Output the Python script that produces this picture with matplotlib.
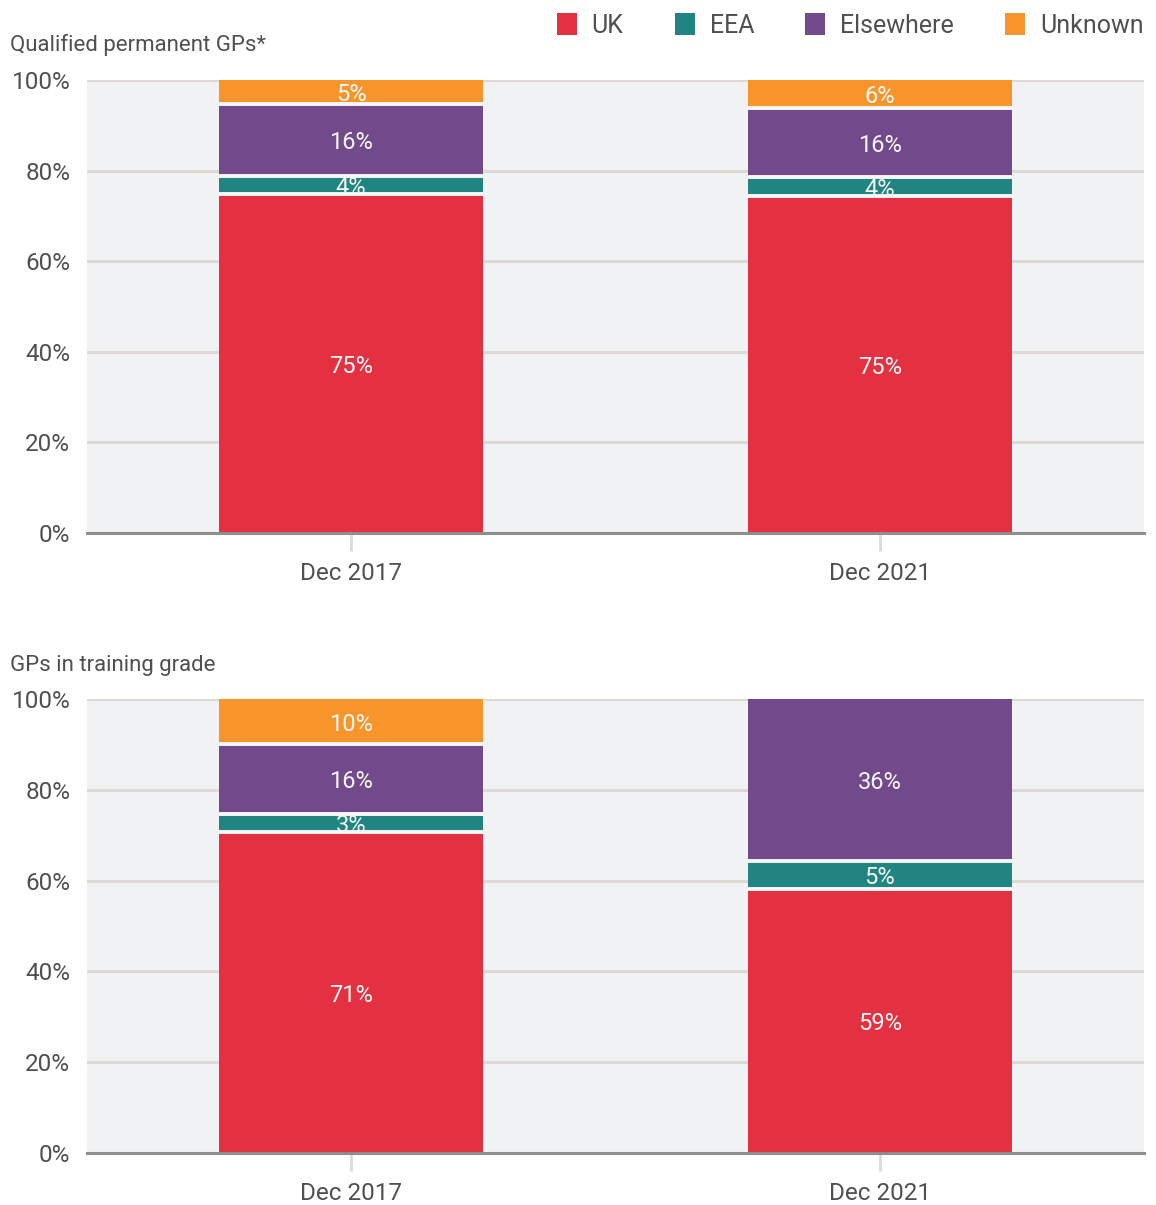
import matplotlib
matplotlib.use("Agg")
import matplotlib.pyplot as plt
from matplotlib.patches import Patch
import numpy as np

plt.rcParams['font.family'] = ['Roboto', 'DejaVu Sans']

categories = ["Dec 2017", "Dec 2021"]
series = ["UK", "EEA", "Elsewhere", "Unknown"]
colors = ["#E33142", "#208580", "#724A8B", "#F7952B"]

# Qualified permanent GPs
top_uk = [74.8, 74.4]
top_eea = [4.1, 4.1]
top_else = [15.9, 15.4]
top_unknown = [5.3, 6.1]
top_labels = [["75%", "75%"], ["4%", "4%"], ["16%", "16%"], ["5%", "6%"]]

# GPs in training grade
bot_uk = [70.8, 58.1]
bot_eea = [3.8, 6.3]
bot_else = [15.5, 35.6]
bot_unknown = [9.9, 0.0]
bot_labels = [["71%", "59%"], ["3%", "5%"], ["16%", "36%"], ["10%", ""]]

yticks = [0, 20, 40, 60, 80, 100]
ytick_labels = ["0%", "20%", "40%", "60%", "80%", "100%"]

bg = "#F1F2F4"
gap_c = "#F7F7F8"
grid_c = "#DCDAD3"
text_c = "#505050"

W, H = 1156, 1205
fig = plt.figure(figsize=(W / 100, H / 100), dpi=100)

def make_axes(top_px, bottom_px):
    left, right = 87, 1144
    return fig.add_axes([left / W, 1 - bottom_px / H, (right - left) / W, (bottom_px - top_px) / H])

def draw(ax, data, labels, title, title_y):
    ax.set_facecolor(bg)
    x = np.arange(len(categories))
    width = 0.5
    bottom = np.zeros(len(categories))
    for i, (vals, col, labs) in enumerate(zip(data, colors, labels)):
        vals = np.array(vals, dtype=float)
        bars = ax.bar(x, vals, bottom=bottom, width=width, color=col,
                      linewidth=0, zorder=3)
        if i > 0:
            for xi, b0, v in zip(x, bottom, vals):
                if v > 0:
                    ax.hlines(b0, xi - width / 2, xi + width / 2, color=gap_c,
                              linewidth=2.8, zorder=3.5)
        for b, v, lab in zip(bars, vals, labs):
            if v <= 0 or not lab:
                continue
            t = ax.annotate(lab, (b.get_x() + b.get_width() / 2, b.get_y() + v / 2),
                            xytext=(0, -2), textcoords="offset points",
                            ha="center", va="center", color="#F6F6F6", fontsize=17,
                            zorder=3.2)
            t.set_clip_path(b)
        bottom += vals
    ax.set_xlim(-0.5, 1.5)
    ax.set_ylim(0, 100)
    ax.set_yticks(yticks)
    ax.set_yticklabels(ytick_labels)
    ax.set_xticks(x)
    ax.set_xticklabels(categories)
    ax.yaxis.grid(True, color=grid_c, linewidth=2.2, zorder=0)
    ax.set_axisbelow(True)
    for s in ["top", "right", "left"]:
        ax.spines[s].set_visible(False)
    ax.spines["bottom"].set_color("#8E8E8E")
    ax.spines["bottom"].set_linewidth(2.2)
    ax.spines["bottom"].set_zorder(5)
    ax.tick_params(axis="y", length=0, pad=12, labelsize=17.5, labelcolor=text_c)
    ax.tick_params(axis="x", length=13, width=2, color=grid_c, pad=8,
                   labelsize=17.5, labelcolor=text_c)
    fig.text(10 / W, 1 - title_y / H, title, ha="left", va="center",
             fontsize=16, color=text_c)

ax1 = make_axes(80, 533)
draw(ax1, [top_uk, top_eea, top_else, top_unknown], top_labels,
     "Qualified permanent GPs*", 45)
ax2 = make_axes(699, 1153)
draw(ax2, [bot_uk, bot_eea, bot_else, bot_unknown], bot_labels,
     "GPs in training grade", 665)

handles = [Patch(facecolor=c, edgecolor="none") for c in colors]
leg = fig.legend(handles, series, loc="upper right", ncol=4, frameon=False,
                 bbox_to_anchor=(1154 / W, 1 - 3 / H), fontsize=18,
                 handlelength=0.8, handleheight=1.0, handletextpad=0.6,
                 columnspacing=2.05, borderaxespad=0)
for t in leg.get_texts():
    t.set_color(text_c)

fig.savefig("out.png", dpi=100, facecolor="white")
